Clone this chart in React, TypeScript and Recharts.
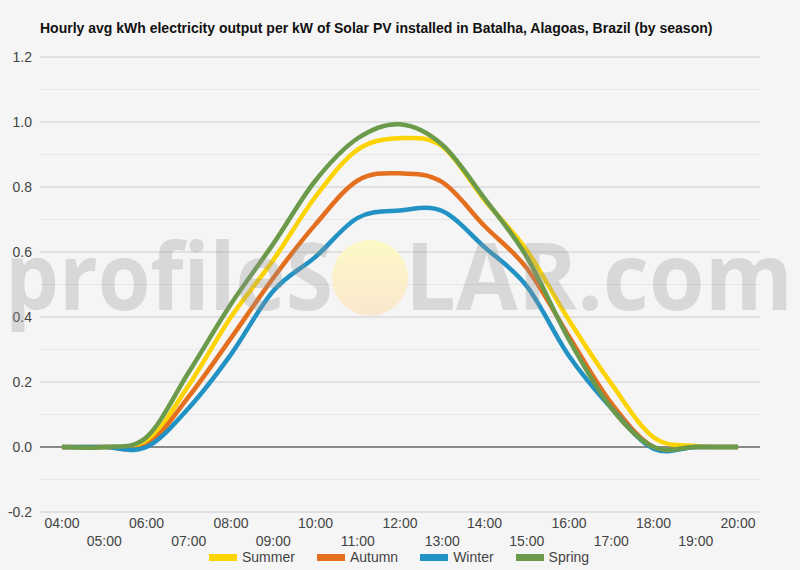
import { LineChart, Line, XAxis, YAxis, CartesianGrid, ReferenceLine } from "recharts";

const hours = [4, 5, 6, 7, 8, 9, 10, 11, 12, 13, 14, 15, 16, 17, 18, 19, 20];
const hourLabels = [
  "04:00", "05:00", "06:00", "07:00", "08:00", "09:00", "10:00", "11:00", "12:00",
  "13:00", "14:00", "15:00", "16:00", "17:00", "18:00", "19:00", "20:00",
];

const summer = [0, 0, 0.015, 0.19, 0.4, 0.575, 0.77, 0.915, 0.95, 0.925, 0.76, 0.605, 0.39, 0.195, 0.03, 0.003, 0];
const autumn = [0, 0, 0.005, 0.155, 0.335, 0.52, 0.685, 0.82, 0.842, 0.815, 0.68, 0.55, 0.34, 0.135, 0.0, 0, 0];
const winter = [0, 0, 0.0, 0.12, 0.285, 0.48, 0.585, 0.705, 0.728, 0.726, 0.615, 0.495, 0.28, 0.12, -0.005, 0, 0];
const spring = [0, 0, 0.03, 0.23, 0.44, 0.625, 0.82, 0.95, 0.993, 0.93, 0.765, 0.585, 0.33, 0.12, 0.0, 0, 0];

const yTicks = [-0.2, 0, 0.2, 0.4, 0.6, 0.8, 1.0, 1.2];
const yMinor = [-0.1, 0.1, 0.3, 0.5, 0.7, 0.9, 1.1];

const series = [
  { key: "summer", name: "Summer", color: "#fcd303" },
  { key: "autumn", name: "Autumn", color: "#e46f1f" },
  { key: "winter", name: "Winter", color: "#2192c3" },
  { key: "spring", name: "Spring", color: "#6b9a4b" },
];

const data = hours.map((h, i) => ({
  hour: h,
  summer: summer[i],
  autumn: autumn[i],
  winter: winter[i],
  spring: spring[i],
}));

const FONT = "'Liberation Sans', Arial, sans-serif";

// Catmull-Rom style smoothing, closer to the original "function" curve than natural/monotone
const smoothCurve = (context: any) => {
  let pts: number[][] = [];
  const k = 1 / 6;
  return {
    areaStart() {},
    areaEnd() {},
    lineStart() {
      pts = [];
    },
    point(x: number, y: number) {
      pts.push([+x, +y]);
    },
    lineEnd() {
      if (!pts.length) return;
      context.moveTo(pts[0][0], pts[0][1]);
      for (let i = 0; i < pts.length - 1; i++) {
        const p0 = pts[i - 1] || pts[i];
        const p1 = pts[i];
        const p2 = pts[i + 1];
        const p3 = pts[i + 2] || p2;
        context.bezierCurveTo(
          p1[0] + (p2[0] - p0[0]) * k,
          p1[1] + (p2[1] - p0[1]) * k,
          p2[0] - (p3[0] - p1[0]) * k,
          p2[1] - (p3[1] - p1[1]) * k,
          p2[0],
          p2[1]
        );
      }
    },
  };
};

// even hours on the first row, odd hours below
const HourTick = (props: any) => {
  const { x, y, payload } = props;
  const idx = hours.indexOf(payload.value);
  const odd = payload.value % 2 === 1;
  return (
    <text
      x={x}
      y={y + (odd ? 34 : 16)}
      textAnchor="middle"
      fontSize={14}
      fontFamily={FONT}
      fill="#444"
    >
      {hourLabels[idx]}
    </text>
  );
};

export default function App() {
  return (
    <div
      style={{
        position: "fixed",
        top: 0,
        left: 0,
        width: 800,
        height: 570,
        background: "#f5f5f5",
        fontFamily: FONT,
        overflow: "hidden",
      }}
    >
      <div
        style={{
          position: "absolute",
          left: 40,
          top: 20,
          fontSize: 14,
          fontWeight: 700,
          color: "#111",
          whiteSpace: "nowrap",
        }}
      >
        Hourly avg kWh electricity output per kW of Solar PV installed in Batalha, Alagoas, Brazil (by season)
      </div>

      <div style={{ position: "absolute", left: 0, top: 0 }}>
        <LineChart
          width={800}
          height={570}
          data={data}
          margin={{ top: 57, right: 40, bottom: 28, left: 0 }}
        >
          {yMinor.map((v) => (
            <ReferenceLine key={v} y={v} stroke="#e6e6e6" strokeWidth={1} />
          ))}
          <CartesianGrid vertical={false} stroke="#cccccc" />
          <ReferenceLine y={0} stroke="#333" strokeWidth={1} />
          <XAxis
            dataKey="hour"
            type="number"
            domain={[3.48, 20.52]}
            ticks={hours}
            height={30}
            axisLine={false}
            tickLine={false}
            tickSize={0}
            tickMargin={0}
            tick={<HourTick />}
            interval={0}
          />
          <YAxis
            width={40}
            domain={[-0.2, 1.2]}
            ticks={yTicks}
            axisLine={false}
            tickLine={false}
            tickSize={0}
            tickMargin={8}
            tickFormatter={(v: number) => v.toFixed(1)}
            tick={{ fontSize: 14, fill: "#444", fontFamily: FONT }}
            interval={0}
          />
          {series.map((s) => (
            <Line
              key={s.key}
              dataKey={s.key}
              name={s.name}
              type={smoothCurve as any}
              stroke={s.color}
              strokeWidth={4.5}
              dot={false}
              activeDot={false}
              isAnimationActive={false}
            />
          ))}
        </LineChart>
      </div>

      {/* watermark on top, semi transparent */}
      <svg
        width={800}
        height={570}
        style={{ position: "absolute", left: 0, top: 0, pointerEvents: "none" }}
      >
        <defs>
          <linearGradient id="sun" x1="0" y1="0" x2="0" y2="1">
            <stop offset="0%" stopColor="#fdf9c6" />
            <stop offset="100%" stopColor="#f9e7cf" />
          </linearGradient>
        </defs>
        <circle cx={370} cy={278} r={38} fill="url(#sun)" />
        <g
          fontFamily="'Open Sans', 'DejaVu Sans', sans-serif"
          fontWeight={700}
          fontSize={94}
          fill="rgba(150,150,150,0.3)"
        >
          <text x={5} y={310} textLength={328} lengthAdjust="spacingAndGlyphs">
            profileS
          </text>
          <text x={405} y={310} textLength={388} lengthAdjust="spacingAndGlyphs">
            LAR.com
          </text>
        </g>
      </svg>

      <div
        style={{
          position: "absolute",
          top: 549,
          left: 209,
          display: "flex",
          alignItems: "center",
          fontSize: 14,
          color: "#444",
        }}
      >
        {series.map((s) => (
          <span
            key={s.key}
            style={{ display: "flex", alignItems: "center", marginRight: 22 }}
          >
            <span
              style={{
                width: 28,
                height: 7,
                background: s.color,
                display: "inline-block",
                marginRight: 5,
              }}
            />
            {s.name}
          </span>
        ))}
      </div>
    </div>
  );
}
